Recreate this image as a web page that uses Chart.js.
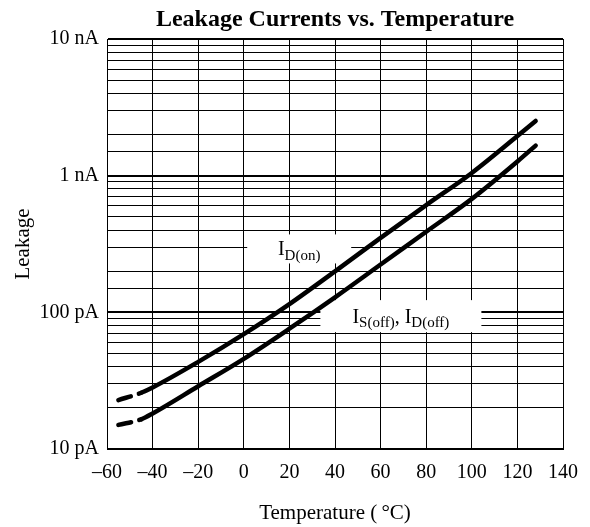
<!DOCTYPE html>
<html>
<head>
<meta charset="utf-8">
<title>Leakage Currents vs. Temperature</title>
<script src="https://cdn.jsdelivr.net/npm/chart.js@4.4.1/dist/chart.umd.min.js"></script>
<style>
  html, body { margin: 0; padding: 0; background: #fff; }
  #wrap { width: 590px; height: 527px; position: relative; }
</style>
</head>
<body>
<div id="wrap"><canvas id="leakChart"></canvas></div>
<script>
/* ---- data (leakage in pA) ---- */
const temps = [-55, -45, -40, -20, 0, 20, 40, 60, 80, 100, 120, 128];
const leakOn = [22.8, 25.8, 28.2, 43.4, 69.2, 114.8, 199.5, 350.8, 609.5, 1047, 1950, 2512];
const leakOff = [15.0, 16.5, 18.2, 28.8, 45.7, 75.9, 128.8, 223.9, 389.0, 676.1, 1270, 1660];
const dashUntil = -45;            // curves are dashed below this temperature

const yDecades = [10, 100, 1000, 10000];
const yDecadeLabels = ['10 pA', '100 pA', '1 nA', '10 nA'];

/* curve captions: position in data units, text parts [text, isSubscript] */
const captionTemps = [24.3, 68.9];
const captionLeaks = [291, 93.8];
const captionParts = [
  [['I', false], ['D(on)', true]],
  [['I', false], ['S(off)', true], [', I', false], ['D(off)', true]],
];

/* ---- styling ---- */
const SERIF = "'Liberation Serif', 'Times New Roman', serif";
const CAPTION_BOX = [{ w: 104, h: 29 }, { w: 161, h: 32 }];
const MAIN_FONT = `20px ${SERIF}`;
const SUB_FONT = `15px ${SERIF}`;

const captionPlugin = {
  id: 'curveCaptions',
  beforeDatasetsDraw(chart) {
    const { ctx, scales: { x, y } } = chart;
    ctx.save();
    captionParts.forEach((parts, i) => {
      const cx = x.getPixelForValue(captionTemps[i]);
      const cy = y.getPixelForValue(captionLeaks[i]);
      const box = CAPTION_BOX[i];
      ctx.fillStyle = '#fff';
      ctx.fillRect(cx - box.w / 2, cy - box.h / 2, box.w, box.h);

      let total = 0;
      parts.forEach(([txt, sub]) => {
        ctx.font = sub ? SUB_FONT : MAIN_FONT;
        total += ctx.measureText(txt).width;
      });
      let px = cx - total / 2;
      const base = cy + 6.5;
      ctx.fillStyle = '#000';
      ctx.textAlign = 'left';
      ctx.textBaseline = 'alphabetic';
      parts.forEach(([txt, sub]) => {
        ctx.font = sub ? SUB_FONT : MAIN_FONT;
        ctx.fillText(txt, px, sub ? base + 4.5 : base);
        px += ctx.measureText(txt).width;
      });
    });
    ctx.restore();
  },
};

const curve = (values) => ({
  data: temps.map((t, i) => ({ x: t, y: values[i] })),
  borderColor: '#000',
  borderWidth: 4.5,
  borderCapStyle: 'round',
  borderJoinStyle: 'round',
  pointRadius: 0,
  cubicInterpolationMode: 'monotone',
  segment: {
    borderDash: (ctx) => (ctx.p0.parsed.x < dashUntil ? [13, 8.5] : undefined),
  },
});

new Chart(document.getElementById('leakChart'), {
  type: 'line',
  data: { datasets: [curve(leakOn), curve(leakOff)] },
  plugins: [captionPlugin],
  options: {
    responsive: true,
    maintainAspectRatio: false,
    animation: false,
    layout: { padding: { left: 0, right: 23, top: 0, bottom: 0 } },
    plugins: {
      legend: { display: false },
      tooltip: { enabled: false },
      title: {
        display: true,
        text: 'Leakage Currents vs. Temperature',
        fullSize: false,
        color: '#000',
        font: { family: SERIF, size: 24, weight: 'bold' },
        padding: { top: 5.6, bottom: 4.6 },
      },
    },
    scales: {
      x: {
        type: 'linear',
        min: -60,
        max: 140,
        afterFit: (s) => { s.height = 78; },
        ticks: {
          stepSize: 20,
          padding: 12,
          color: '#000',
          font: { family: SERIF, size: 20 },
          callback: (v) => (v < 0 ? `\u2013${Math.abs(v)}` : `${v}`),
        },
        grid: { color: '#000', lineWidth: 1, drawTicks: false },
        border: { color: '#000', width: 1 },
        title: {
          display: true,
          text: 'Temperature (\u2009\u00B0C)',
          color: '#000',
          font: { family: SERIF, size: 21 },
          padding: { top: 15.4, bottom: 1.4 },
        },
      },
      y: {
        type: 'logarithmic',
        min: 10,
        max: 10000,
        afterFit: (s) => { s.width = 107; },
        ticks: {
          autoSkip: false,
          padding: 8,
          color: '#000',
          font: { family: SERIF, size: 20 },
          callback: (v) => {
            const i = yDecades.indexOf(v);
            return i >= 0 ? yDecadeLabels[i] : '';
          },
        },
        grid: {
          color: '#000',
          lineWidth: (ctx) => (ctx.tick && yDecades.includes(ctx.tick.value) ? 2 : 1),
          drawTicks: false,
        },
        border: { color: '#000', width: 1 },
        title: {
          display: true,
          text: 'Leakage',
          color: '#000',
          font: { family: SERIF, size: 21 },
          padding: { top: 10.4, bottom: 4 },
        },
      },
    },
  },
});
</script>
</body>
</html>
